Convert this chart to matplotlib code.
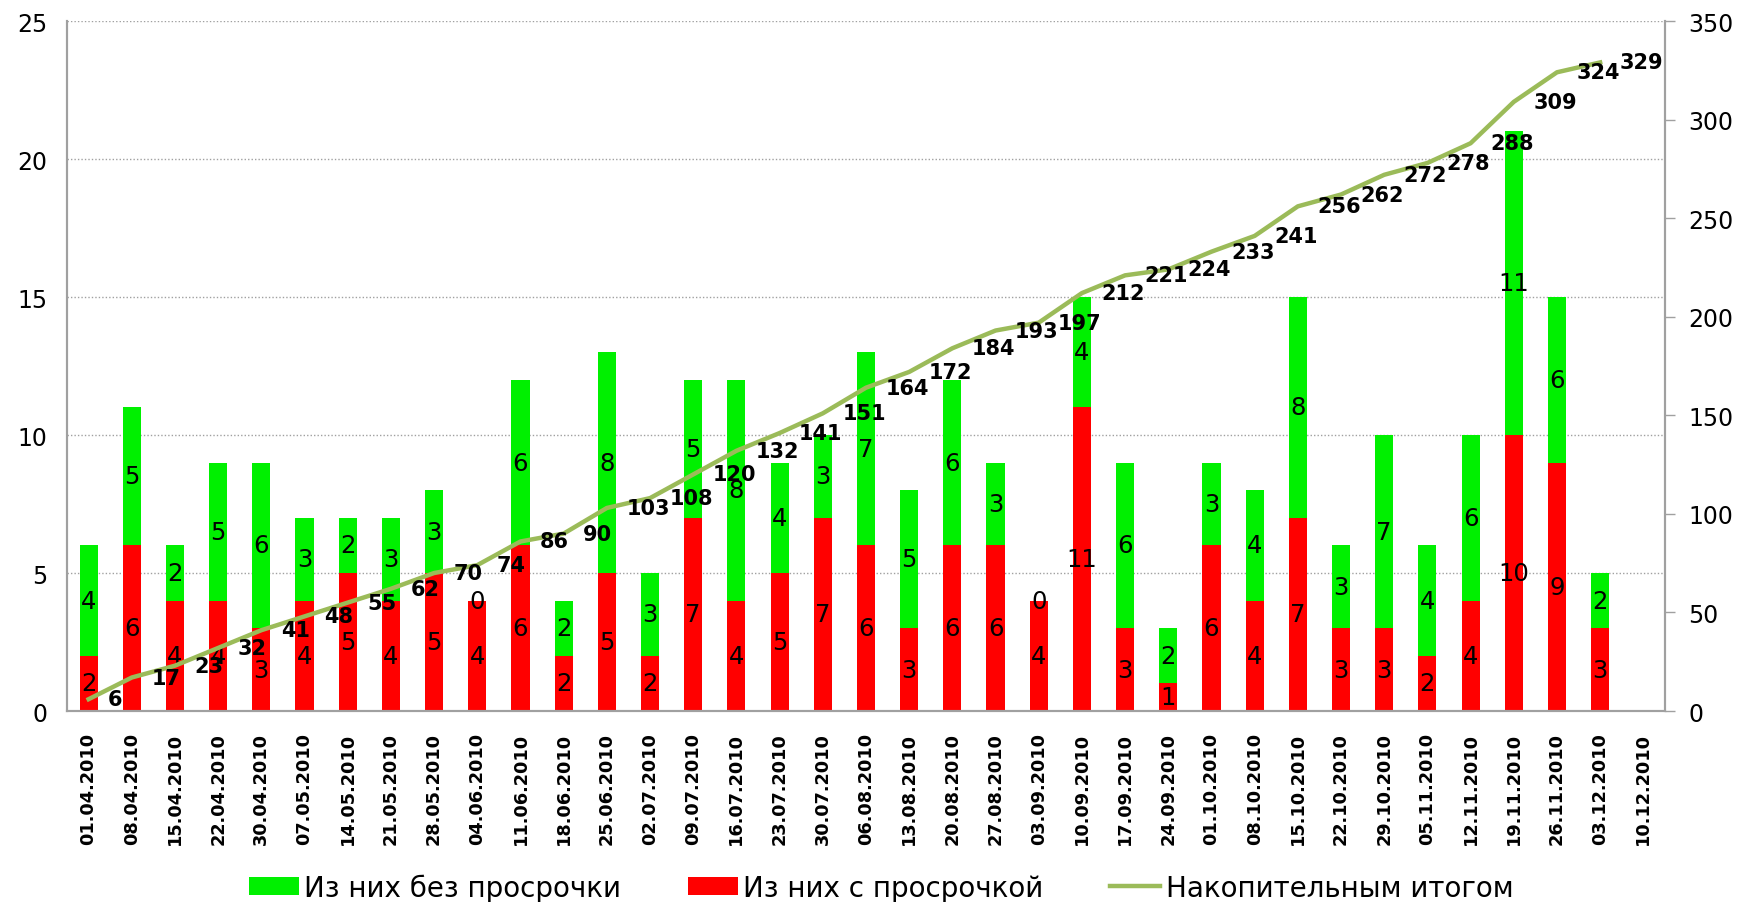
import matplotlib
matplotlib.use("Agg")
import matplotlib.pyplot as plt
import numpy as np

plt.rcParams['font.family'] = ['DejaVu Sans']

dates = ["01.04.2010", "08.04.2010", "15.04.2010", "22.04.2010", "30.04.2010",
         "07.05.2010", "14.05.2010", "21.05.2010", "28.05.2010", "04.06.2010",
         "11.06.2010", "18.06.2010", "25.06.2010", "02.07.2010", "09.07.2010",
         "16.07.2010", "23.07.2010", "30.07.2010", "06.08.2010", "13.08.2010",
         "20.08.2010", "27.08.2010", "03.09.2010", "10.09.2010", "17.09.2010",
         "24.09.2010", "01.10.2010", "08.10.2010", "15.10.2010", "22.10.2010",
         "29.10.2010", "05.11.2010", "12.11.2010", "19.11.2010", "26.11.2010",
         "03.12.2010", "10.12.2010"]

# с просрочкой (red, bottom)
late = [2, 6, 4, 4, 3, 4, 5, 4, 5, 4, 6, 2, 5, 2, 7, 4, 5, 7, 6, 3,
        6, 6, 4, 11, 3, 1, 6, 4, 7, 3, 3, 2, 4, 10, 9, 3]
# без просрочки (green, top)
ontime = [4, 5, 2, 5, 6, 3, 2, 3, 3, 0, 6, 2, 8, 3, 5, 8, 4, 3, 7, 5,
          6, 3, 0, 4, 6, 2, 3, 4, 8, 3, 7, 4, 6, 11, 6, 2]
# накопительный итог
cumulative = [6, 17, 23, 32, 41, 48, 55, 62, 70, 74, 86, 90, 103, 108, 120,
              132, 141, 151, 164, 172, 184, 193, 197, 212, 221, 224, 233, 241,
              256, 262, 272, 278, 288, 309, 324, 329]

x_all = np.arange(len(dates))
x = np.arange(len(late))
late = np.array(late)
ontime = np.array(ontime)

fig = plt.figure(figsize=(17.41, 9.03), dpi=100)
ax = fig.add_axes([0.0385, 0.2115, 0.9178, 0.7641])
ax2 = ax.twinx()

w = 0.42
b_red = ax.bar(x, late, width=w, color='#FF0000', label='Из них с просрочкой', zorder=2)
b_green = ax.bar(x, ontime, width=w, bottom=late, color='#00F000',
                 label='Из них без просрочки', zorder=2)

# подписи сегментов
for i in x:
    ax.text(i, late[i] / 2, str(late[i]), ha='center', va='center', fontsize=17.5, zorder=3)
    ax.text(i, late[i] + ontime[i] / 2, str(ontime[i]), ha='center', va='center',
            fontsize=17.5, zorder=3)

ln, = ax2.plot(x, cumulative, color='#9BBB59', lw=3.2, label='Накопительным итогом')
for i, v in zip(x, cumulative):
    ax2.annotate(str(v), (i, v), xytext=(14, 0), textcoords='offset points',
                 ha='left', va='center', fontsize=15, fontweight='bold')

ax.set_xlim(-0.5, len(dates) - 0.5)
ax.set_ylim(0, 25)
ax2.set_ylim(0, 350)
ax.set_yticks(np.arange(0, 26, 5))
ax2.set_yticks(np.arange(0, 351, 50))
ax.set_xticks(x_all)
ax.set_xticklabels(dates, rotation=90, fontsize=12.8, fontweight='bold')
ax.tick_params(axis='x', length=0, pad=15)
ax.tick_params(axis='y', length=0, labelsize=17, pad=14)
ax2.tick_params(axis='y', length=7, width=1, color='#A0A0A0', labelsize=17, pad=10)

ax.grid(axis='y', linestyle=(0, (1, 1.5)), color='#A0A0A0', lw=1, zorder=0)
ax.set_axisbelow(True)

for a in (ax, ax2):
    a.spines['top'].set_visible(False)
    for s in ('left', 'right', 'bottom'):
        a.spines[s].set_color('#A0A0A0')
        a.spines[s].set_linewidth(1.5)

fig.legend([b_green, b_red, ln],
           ['Из них без просрочки', 'Из них с просрочкой', 'Накопительным итогом'],
           loc='center', bbox_to_anchor=(0.506, 0.016), ncol=3, frameon=False,
           fontsize=20, handlelength=1.8, handleheight=0.6, handletextpad=0.2,
           columnspacing=2.4)

fig.savefig('out.png', dpi=100)
